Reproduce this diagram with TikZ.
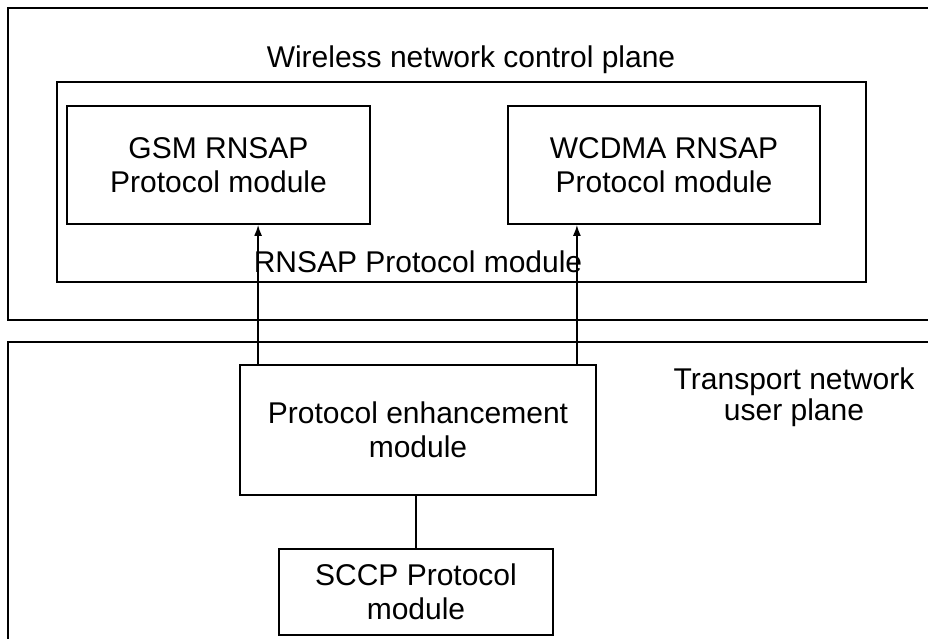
\documentclass[tikz,border=0pt]{standalone}
\usepackage{fontspec}
\setmainfont{Liberation Sans}
\usetikzlibrary{arrows.meta}
\begin{document}
\begin{tikzpicture}[x=1pt,y=-1pt,
  every node/.style={font=\fontsize{30}{34}\selectfont, inner sep=0pt, align=center},
  plane/.style={draw, line width=2pt, minimum width=932pt},
  module/.style={draw, line width=1.8pt},
  group/.style={draw, line width=1.3pt},
  arr/.style={line width=1.5pt, -{Latex[length=11pt,width=8pt]}},
  link/.style={line width=1.5pt}]
  \clip (0,0) rectangle (928,639);
  \fill[white] (0,0) rectangle (928,639);

  % the two planes (their right and lower sides run past the frame)
  \node[plane, minimum height=312pt] (cplane) at (474,164) {};
  \node[plane, minimum height=308pt] (uplane) at (474,496) {};

  \node[anchor=base] (cplanelabel) at (471,68) {Wireless network control plane};
  \node[font=\fontsize{30}{31}\selectfont] (uplanelabel) at (794,397) {Transport network\\user plane};

  % RNSAP group and its two protocol modules
  \node[group, minimum width=809pt, minimum height=200pt] (rnsap) at (461.5,182) {};
  \node[anchor=base] (rnsaplabel) at (418,272) {RNSAP Protocol module};
  \node[module, minimum width=303pt, minimum height=118pt] (gsm) at (218.5,165)
    {GSM RNSAP\\Protocol module};
  \node[module, minimum width=312pt, minimum height=118pt] (wcdma) at (664,165)
    {WCDMA RNSAP\\Protocol module};

  % transport side modules
  \node[module, minimum width=356pt, minimum height=130pt] (pe) at (418,430)
    {Protocol enhancement\\module};
  \node[module, minimum width=274pt, minimum height=86pt] (sccp) at (416,592)
    {SCCP Protocol\\module};

  % connections
  \draw[arr] ([xshift=19pt]pe.north west) -- ([xshift=19pt]pe.north west |- gsm.south);
  \draw[arr] ([xshift=-20pt]pe.north east) -- ([xshift=-20pt]pe.north east |- wcdma.south);
  \draw[link] (pe.south -| sccp.north) -- (sccp.north);
\end{tikzpicture}
\end{document}
